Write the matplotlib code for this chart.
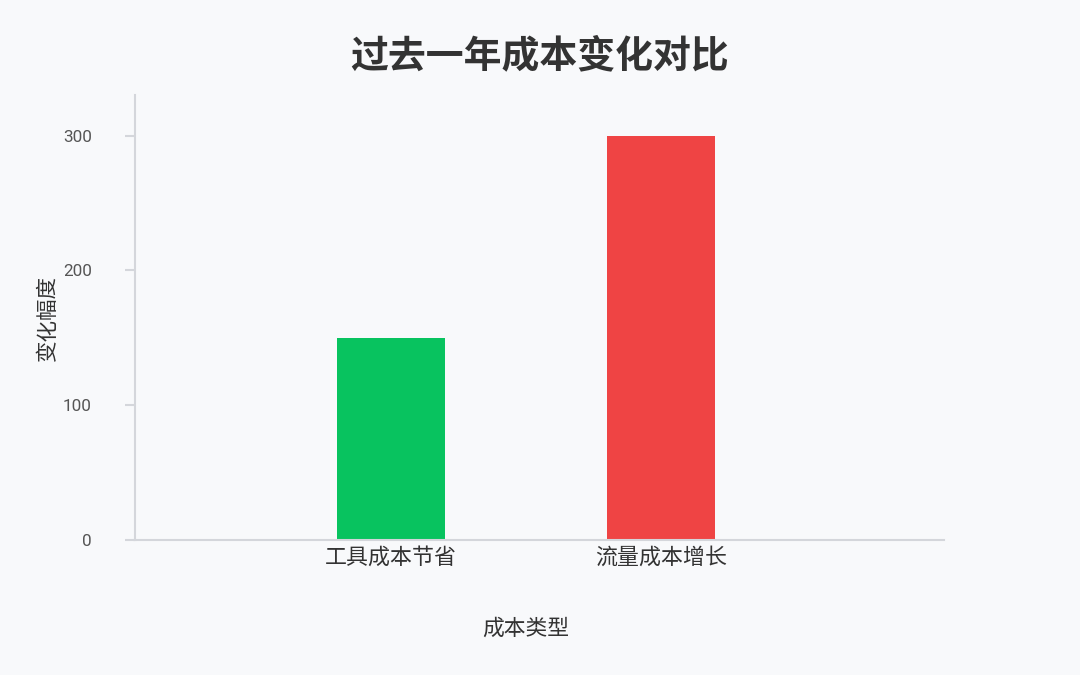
import matplotlib
matplotlib.use("Agg")
import matplotlib.pyplot as plt

categories = ["工具成本节省", "流量成本增长"]
values = [150, 300]
colors = ["#08c35f", "#ef4444"]
yticks = [0, 100, 200, 300]

plt.rcParams['font.family'] = ['Noto Sans CJK SC', 'DejaVu Sans']
bg = "#f8f9fb"
fig = plt.figure(figsize=(10.8, 6.75), dpi=100, facecolor=bg)
ax = fig.add_axes([0.125, 0.2, 0.749, 0.659], facecolor=bg)

x = list(range(len(categories)))
ax.bar(x, values, width=0.4, color=colors)
ax.set_xlim(-0.948, 2.048)
ax.set_ylim(0, 330)
ax.set_xticks(x)
ax.set_xticklabels(categories, fontsize=15.8, color="#333333")
ax.set_yticks(yticks)
ax.set_yticklabels([str(v) for v in yticks], fontsize=12.3, color="#555555",
                   family=['Roboto', 'DejaVu Sans'])
ax.tick_params(axis='x', length=0, pad=5)
ax.tick_params(axis='y', length=7, width=1.5, color="#d4d6db", pad=24)
for s in ["top", "right"]:
    ax.spines[s].set_visible(False)
for s in ["left", "bottom"]:
    ax.spines[s].set_color("#d4d6db")
    ax.spines[s].set_linewidth(1.5)

ax.set_ylabel("变化幅度", fontsize=15.5, color="#333333", labelpad=3)
ax.set_xlabel("成本类型", fontsize=15.7, color="#333333")
ax.xaxis.set_label_coords(0.483, -0.174)
fig.text(0.5, 0.918, "过去一年成本变化对比", ha="center", va="center",
         fontsize=27.3, fontweight="bold", color="#333333")

fig.savefig("out.png", dpi=100, facecolor=bg)
